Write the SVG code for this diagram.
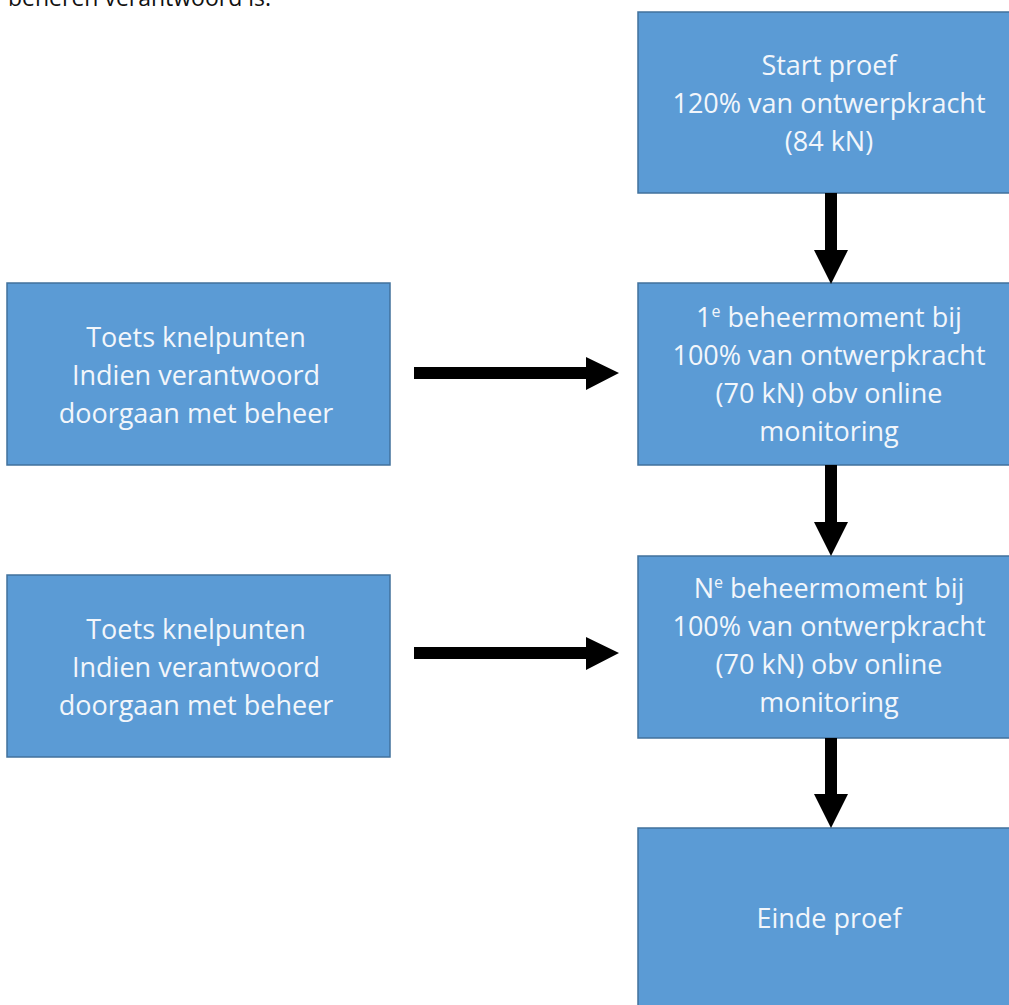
<svg xmlns="http://www.w3.org/2000/svg" width="1009" height="1005" viewBox="0 0 1009 1005">
<style>
.box{fill:#5b9bd5;stroke:#41719c;stroke-width:1.5}
.t{font-family:"Open Sans","Liberation Sans",sans-serif;font-size:27px;fill:#f2f6fb;text-anchor:middle}
.sup{font-size:16px}
.arr{fill:#000}
.top{font-family:"Open Sans","Liberation Sans",sans-serif;font-size:23px;fill:#111}
</style>
<rect width="1009" height="1005" fill="#fff"/>
<text class="top" x="8" y="6">beheren verantwoord is.</text>
<g id="start">
<rect class="box" x="638" y="12" width="390" height="181"/>
<text class="t" x="829"><tspan x="829" y="75">Start proef</tspan><tspan x="829" y="113">120% van ontwerpkracht</tspan><tspan x="829" y="151">(84 kN)</tspan></text>
</g>
<g id="beheer1">
<rect class="box" x="638" y="283" width="390" height="182"/>
<text class="t" x="829"><tspan x="829" y="327">1<tspan class="sup" dy="-10">e</tspan><tspan dy="10"> beheermoment bij</tspan></tspan><tspan x="829" y="365">100% van ontwerpkracht</tspan><tspan x="829" y="403">(70 kN) obv online</tspan><tspan x="829" y="441">monitoring</tspan></text>
</g>
<g id="beheerN">
<rect class="box" x="638" y="556" width="390" height="182"/>
<text class="t" x="829"><tspan x="829" y="598">N<tspan class="sup" dy="-10">e</tspan><tspan dy="10"> beheermoment bij</tspan></tspan><tspan x="829" y="636">100% van ontwerpkracht</tspan><tspan x="829" y="674">(70 kN) obv online</tspan><tspan x="829" y="712">monitoring</tspan></text>
</g>
<g id="einde">
<rect class="box" x="638" y="828" width="390" height="190"/>
<text class="t" x="829" y="928">Einde proef</text>
</g>
<g id="toets1">
<rect class="box" x="7" y="283" width="383" height="182"/>
<text class="t" x="196"><tspan x="196" y="347">Toets knelpunten</tspan><tspan x="196" y="385">Indien verantwoord</tspan><tspan x="196" y="423">doorgaan met beheer</tspan></text>
</g>
<g id="toets2">
<rect class="box" x="7" y="575" width="383" height="182"/>
<text class="t" x="196"><tspan x="196" y="639">Toets knelpunten</tspan><tspan x="196" y="677">Indien verantwoord</tspan><tspan x="196" y="715">doorgaan met beheer</tspan></text>
</g>
<g id="connectors">
<polygon class="arr" points="825,193 837,193 837,250 848,250 831,284 814,250 825,250"/>
<polygon class="arr" points="825,465 837,465 837,522 848,522 831,556 814,522 825,522"/>
<polygon class="arr" points="825,738 837,738 837,794 848,794 831,828 814,794 825,794"/>
<polygon class="arr" points="414,367 586,367 586,357 619,373 586,390 586,379 414,379"/>
<polygon class="arr" points="414,647 586,647 586,637 619,653 586,670 586,659 414,659"/>
</g>
</svg>
